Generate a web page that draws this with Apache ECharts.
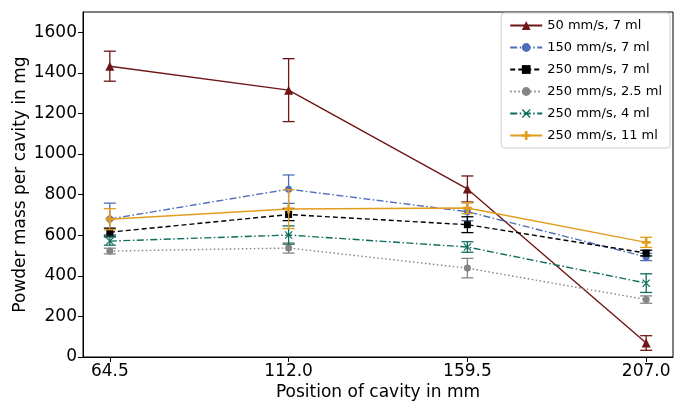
<!DOCTYPE html>
<html>
<head>
<meta charset="utf-8">
<script src="https://cdn.jsdelivr.net/npm/echarts@6/dist/echarts.min.js"></script>
<style>html,body{margin:0;padding:0;background:#fff}#c{width:675px;height:403px}</style>
</head>
<body>
<div id="c"></div>
<script>
const positions = [64.5, 112.0, 159.5, 207.0];
const xTicks = [64.5, 112.0, 159.5, 207.0];
const yTicks = [0, 200, 400, 600, 800, 1000, 1200, 1400, 1600];

const names = ['50 mm/s, 7 ml', '150 mm/s, 7 ml', '250 mm/s, 7 ml', '250 mm/s, 2.5 ml', '250 mm/s, 4 ml', '250 mm/s, 11 ml'];
const v50_7   = [1433, 1315, 828, 69];
const e50_7   = [74, 155, 64, 36];
const v150_7  = [680, 827, 716, 493];
const e150_7  = [78, 70, 44, 18];
const v250_7  = [615, 702, 652, 512];
const e250_7  = [20, 30, 39, 14];
const v250_25 = [522, 537, 438, 283];
const e250_25 = [14, 25, 48, 18];
const v250_4  = [571, 601, 542, 364];
const e250_4  = [20, 45, 26, 46];
const v250_11 = [679, 729, 734, 565];
const e250_11 = [52, 96, 27, 25];

const values = [v50_7, v150_7, v250_7, v250_25, v250_4, v250_11];
const errors = [e50_7, e150_7, e250_7, e250_25, e250_4, e250_11];
const colors = ['#6e1616', '#4c6fb8', '#000000', '#848484', '#0f6b5c', '#e39d1d'];
const dashes = ['solid', [7, 2.5, 1.5, 2.5], [5, 3], [1.5, 2.5], [7, 2.5, 1.5, 2.5], 'solid'];
const xPath = 'path://M1,0L5,4L9,0L10,1L6,5L10,9L9,10L5,6L1,10L0,9L4,5L0,1Z';
const plusPath = 'path://M3.5,0H6.5V3.5H10V6.5H6.5V10H3.5V6.5H0V3.5H3.5Z';
const symbols = ['triangle', 'circle', 'rect', 'circle', xPath, plusPath];
const sizes = [9, 7, 7, 7, 8, 9];

const series = [];
names.forEach((n, i) => {
  const data = positions.map((x, j) => [x, values[i][j], errors[i][j]]);
  series.push({
    name: 'err' + i, type: 'custom', z: 2 + i * 2,
    data: data, silent: true,
    renderItem: function (params, api) {
      const x = api.value(0), y = api.value(1), e = api.value(2);
      const top = api.coord([x, y + e]);
      const bot = api.coord([x, y - e]);
      const st = { stroke: colors[i], lineWidth: 1.3 };
      return {
        type: 'group', children: [
          { type: 'line', shape: { x1: top[0], y1: top[1], x2: bot[0], y2: bot[1] }, style: st },
          { type: 'line', shape: { x1: top[0] - 6, y1: top[1], x2: top[0] + 6, y2: top[1] }, style: st },
          { type: 'line', shape: { x1: bot[0] - 6, y1: bot[1], x2: bot[0] + 6, y2: bot[1] }, style: st }
        ]
      };
    },
    encode: { x: 0, y: 1 }
  });
  series.push({
    name: n, type: 'line', z: 3 + i * 2,
    data: data.map(d => [d[0], d[1]]),
    symbol: symbols[i], symbolSize: sizes[i], showSymbol: true,
    itemStyle: { color: colors[i] },
    lineStyle: { color: colors[i], width: 1.4, type: dashes[i] },
    animation: false
  });
});

const chart = echarts.init(document.getElementById('c'), null, { renderer: 'canvas' });
const axisFont = { fontFamily: 'DejaVu Sans', fontSize: 17, color: '#000' };
chart.setOption({
  animation: false,
  grid: { left: 83, right: 2, top: 12, bottom: 46, show: true, borderColor: '#000', borderWidth: 1, outerBoundsMode: 'none', containLabel: false },
  xAxis: {
    type: 'value', min: 57.375, max: 214.125,
    name: 'Position of cavity in mm', nameLocation: 'middle', nameGap: 27, nameMoveOverlap: false,
    nameTextStyle: axisFont,
    axisLine: { lineStyle: { color: '#000', width: 1 } },
    axisTick: { customValues: xTicks, length: 5, lineStyle: { color: '#000' } },
    axisLabel: { customValues: xTicks, formatter: v => v.toFixed(1), margin: 6, ...axisFont },
    splitLine: { show: false }
  },
  yAxis: {
    type: 'value', min: 0, max: 1700,
    name: 'Powder mass per cavity in mg', nameLocation: 'middle', nameGap: 54, nameMoveOverlap: false,
    nameTextStyle: axisFont,
    axisLine: { show: true, lineStyle: { color: '#000', width: 1 } },
    axisTick: { show: true, customValues: yTicks, length: 5, lineStyle: { color: '#000' } },
    axisLabel: { customValues: yTicks, formatter: v => String(v), margin: 6, ...axisFont },
    splitLine: { show: false }
  },
  legend: {
    data: names, orient: 'vertical', right: 5, top: 13,
    backgroundColor: 'rgba(255,255,255,0.8)', borderColor: '#d0d0d0', borderWidth: 1, borderRadius: 3,
    padding: [6, 8, 6, 8], itemWidth: 32, itemHeight: 11, itemGap: 9,
    textStyle: { fontFamily: 'DejaVu Sans', fontSize: 13, color: '#000' }
  },
  series: series
});
</script>
</body>
</html>
